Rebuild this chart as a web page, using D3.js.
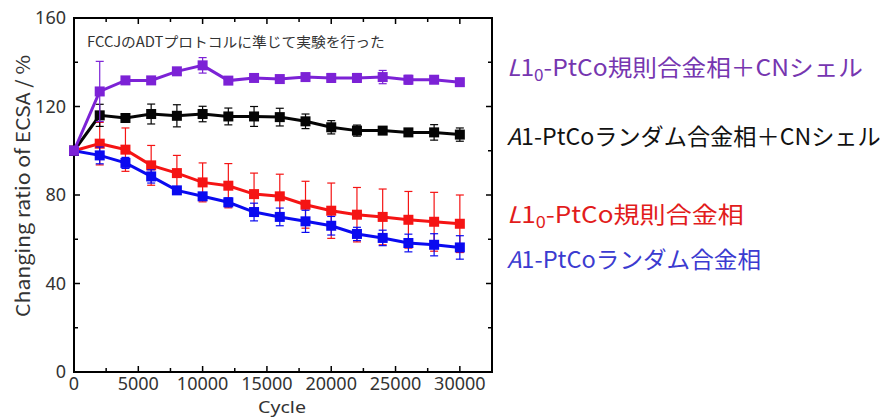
<!DOCTYPE html>
<html>
<head>
<meta charset="utf-8">
<script src="https://cdn.jsdelivr.net/npm/d3@7"></script>
<style>
  html, body { margin: 0; padding: 0; background: #fff; }
  svg text { font-family: "Noto Sans CJK JP", "Noto Sans", sans-serif; }
  svg text.latin { font-family: "Noto Sans", sans-serif; }
</style>
</head>
<body>
<div id="chart"></div>
<script>
// cycles on the x axis
const cycles = [0, 2000, 4000, 6000, 8000, 10000, 12000, 14000, 16000, 18000, 20000, 22000, 24000, 26000, 28000, 30000];

// ECSA change (%) per series, with error bar half-widths
const l10CnValues = [100, 126.8, 131.8, 131.8, 135.9, 138.6, 131.7, 132.9, 132.4, 133.3, 132.9, 132.9, 133.3, 132.1, 132.1, 131.0];
const l10CnErrors = [0, 13.6, 1.5, 1.2, 1.5, 3.5, 1.5, 1.2, 1.2, 1.5, 2.0, 2.0, 3.0, 2.0, 1.5, 1.2];

const a1CnValues = [100, 116.0, 114.8, 116.6, 115.8, 116.6, 115.5, 115.5, 115.2, 113.3, 110.6, 109.1, 109.1, 108.3, 108.3, 107.3];
const a1CnErrors = [0, 5.0, 1.2, 4.5, 5.0, 3.5, 3.8, 4.5, 4.0, 3.3, 3.0, 2.5, 1.5, 1.2, 3.5, 3.0];

const l10Values = [100, 103.2, 100.5, 93.4, 89.9, 85.7, 84.2, 80.4, 79.4, 75.6, 72.9, 71.1, 70.1, 68.8, 67.9, 67.0];
const l10Errors = [0, 9.6, 9.8, 9.0, 8.0, 8.8, 10.0, 9.5, 10.0, 10.6, 12.5, 12.3, 12.6, 12.8, 13.3, 13.0];

const a1Values = [100, 97.9, 94.5, 88.4, 82.1, 79.4, 76.7, 72.3, 70.1, 68.1, 66.1, 62.4, 60.6, 58.3, 57.5, 56.3];
const a1Errors = [0, 3.8, 2.5, 3.0, 1.2, 1.5, 2.0, 4.0, 4.0, 5.0, 4.2, 3.0, 3.5, 4.0, 5.0, 5.3];

const xTicks = [0, 5000, 10000, 15000, 20000, 25000, 30000];
const yTicks = [0, 40, 80, 120, 160];

const series = [
    { name: "l10", values: l10Values, errors: l10Errors, color: "#f51414" },
    { name: "a1", values: a1Values, errors: a1Errors, color: "#0a0af0" },
    { name: "a1cn", values: a1CnValues, errors: a1CnErrors, color: "#050505" },
    { name: "l10cn", values: l10CnValues, errors: l10CnErrors, color: "#7c22d6" }
];

// legend lines on the right: italic letter, digit, subscript, rest
const legendItems = [
    { italic: "L", head: "1", sub: "0", tail: "-PtCo規則合金相＋CNシェル", color: "#7636b0", y: 76, w: 356 },
    { italic: "A", head: "1", sub: "", tail: "-PtCoランダム合金相＋CNシェル", color: "#111111", y: 145, w: 374 },
    { italic: "L", head: "1", sub: "0", tail: "-PtCo規則合金相", color: "#e21c1c", y: 223, w: 237 },
    { italic: "A", head: "1", sub: "", tail: "-PtCoランダム合金相", color: "#3b3bd0", y: 268, w: 254 }
];

const width = 886, height = 418;
const plot = { left: 74, right: 492, top: 18, bottom: 372 };

const svg = d3.select("#chart").append("svg")
    .attr("width", width)
    .attr("height", height);

const x = d3.scaleLinear().domain([0, 32500]).range([plot.left, plot.right]);
const y = d3.scaleLinear().domain([0, 160]).range([plot.bottom, plot.top]);

// stretch a text along its own direction so it fills the given length
function fitText(sel, len, tx, ty, rot) {
    const w = sel.node().getComputedTextLength();
    sel.attr("transform", `translate(${tx},${ty}) rotate(${rot || 0}) scale(${len / w},1)`);
}

// ticks (inward, on all four sides)
const xMinor = d3.range(2500, 32500, 5000);
const yMinor = d3.range(20, 160, 40);
const tickG = svg.append("g").attr("stroke", "#000").attr("stroke-width", 1.5);

xTicks.concat(xMinor).forEach(v => {
    const len = xTicks.includes(v) ? 6 : 4;
    tickG.append("line").attr("x1", x(v)).attr("x2", x(v)).attr("y1", plot.bottom).attr("y2", plot.bottom - len);
    tickG.append("line").attr("x1", x(v)).attr("x2", x(v)).attr("y1", plot.top).attr("y2", plot.top + len);
});
yTicks.concat(yMinor).forEach(v => {
    const len = yTicks.includes(v) ? 6 : 4;
    tickG.append("line").attr("x1", plot.left).attr("x2", plot.left + len).attr("y1", y(v)).attr("y2", y(v));
    tickG.append("line").attr("x1", plot.right).attr("x2", plot.right - len).attr("y1", y(v)).attr("y2", y(v));
});

// frame
svg.append("rect")
    .attr("x", plot.left).attr("y", plot.top)
    .attr("width", plot.right - plot.left).attr("height", plot.bottom - plot.top)
    .attr("fill", "none").attr("stroke", "#000").attr("stroke-width", 2);

// tick labels
svg.append("g").selectAll("text").data(xTicks).join("text")
    .attr("class", "latin")
    .attr("x", d => x(d)).attr("y", 390)
    .attr("text-anchor", "middle")
    .attr("font-size", 18).attr("fill", "#333")
    .text(d => d);

svg.append("g").selectAll("text").data(yTicks).join("text")
    .attr("class", "latin")
    .attr("x", 66).attr("y", d => y(d) + 6)
    .attr("text-anchor", "end")
    .attr("font-size", 18).attr("fill", "#333")
    .text(d => d);

// axis titles
const xTitle = svg.append("text")
    .attr("class", "latin")
    .attr("text-anchor", "middle").attr("font-size", 17).attr("fill", "#333")
    .text("Cycle");
fitText(xTitle, 48, 282, 413);

const yTitle = svg.append("text")
    .attr("text-anchor", "middle").attr("font-size", 19).attr("fill", "#333")
    .text("Changing ratio of ECSA / %");
fitText(yTitle, 262, 30, 186, -90);

// annotation
const note = svg.append("text")
    .attr("font-size", 14).attr("fill", "#333")
    .text("FCCJのADTプロトコルに準じて実験を行った");
fitText(note, 298, 87, 47);

// series
const line = d3.line().x((d, i) => x(cycles[i])).y(d => y(d));

series.forEach(s => {
    const g = svg.append("g").attr("class", `series ${s.name}`);

    const pts = s.values.map((v, i) => ({ c: cycles[i], v: v, e: s.errors[i] }))
        .filter(p => p.e > 0);

    g.selectAll("line.err").data(pts).join("line")
        .attr("class", "err")
        .attr("x1", d => x(d.c)).attr("x2", d => x(d.c))
        .attr("y1", d => y(d.v + d.e)).attr("y2", d => y(d.v - d.e))
        .attr("stroke", s.color).attr("stroke-width", 1.2);

    ["top", "bottom"].forEach(side => {
        g.selectAll(`line.cap-${side}`).data(pts).join("line")
            .attr("class", `cap-${side}`)
            .attr("x1", d => x(d.c) - 4).attr("x2", d => x(d.c) + 4)
            .attr("y1", d => y(side === "top" ? d.v + d.e : d.v - d.e))
            .attr("y2", d => y(side === "top" ? d.v + d.e : d.v - d.e))
            .attr("stroke", s.color).attr("stroke-width", 1.2);
    });

    g.append("path")
        .attr("d", line(s.values))
        .attr("fill", "none")
        .attr("stroke", s.color)
        .attr("stroke-width", 3);

    g.selectAll("rect").data(s.values).join("rect")
        .attr("x", (d, i) => x(cycles[i]) - 5)
        .attr("y", d => y(d) - 5)
        .attr("width", 10).attr("height", 10)
        .attr("fill", s.color);
});

// legend text on the right
legendItems.forEach(item => {
    const t = svg.append("text")
        .attr("font-size", 23)
        .attr("fill", item.color);
    t.append("tspan").attr("font-style", "italic").text(item.italic);
    t.append("tspan").text(item.head);
    if (item.sub) {
        t.append("tspan").attr("font-size", 16).attr("dy", 5).text(item.sub);
        t.append("tspan").attr("dy", -5).text(item.tail);
    } else {
        t.append("tspan").text(item.tail);
    }
    fitText(t, item.w, 507, item.y);
});
</script>
</body>
</html>
